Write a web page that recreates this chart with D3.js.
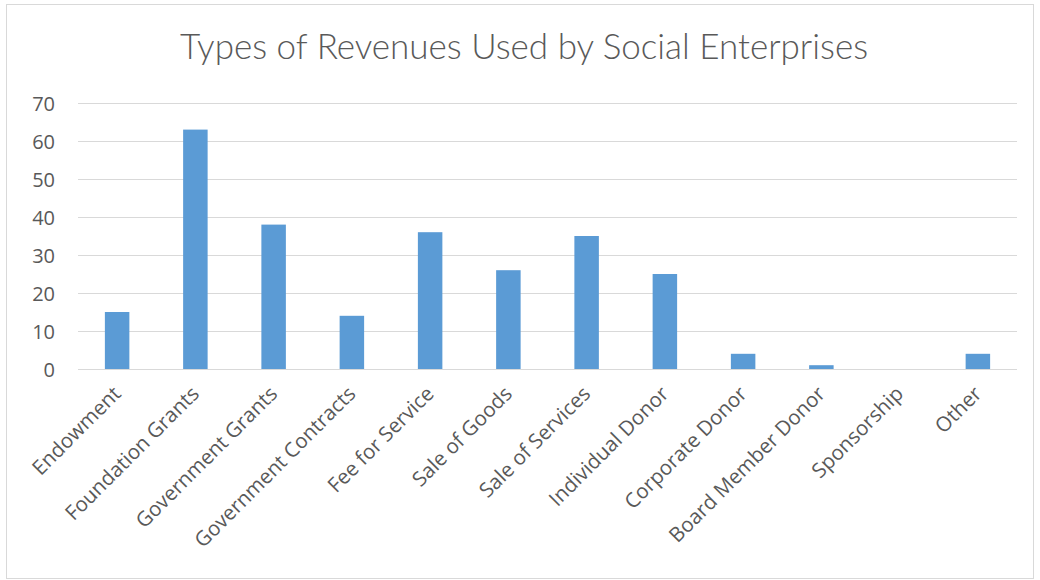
<!DOCTYPE html>
<html>
<head>
<meta charset="utf-8">
<script src="https://cdn.jsdelivr.net/npm/d3@7"></script>
<style>
  html, body { margin: 0; padding: 0; background: #fff; }
  svg { display: block; }
  text { font-family: "Open Sans", "Noto Sans", sans-serif; fill: #595959; }
</style>
</head>
<body>
<svg id="chart" width="1040" height="580"></svg>
<script>
// Revenue types and the number of social enterprises using each
const categories = [
  "Endowment", "Foundation Grants", "Government Grants", "Government Contracts",
  "Fee for Service", "Sale of Goods", "Sale of Services", "Individual Donor",
  "Corporate Donor", "Board Member Donor", "Sponsorship", "Other"
];
const counts = [15, 63, 38, 14, 36, 26, 35, 25, 4, 1, 0, 4];
const yTicks = [0, 10, 20, 30, 40, 50, 60, 70];
const title = "Types of Revenues Used by Social Enterprises";

const svg = d3.select("#chart");
const plot = { left: 78, right: 1017, top: 103, bottom: 369 };

// chart frame
svg.append("rect")
  .attr("x", 6.5).attr("y", 4.5)
  .attr("width", 1027).attr("height", 574)
  .attr("fill", "#fff").attr("stroke", "#d9d9d9").attr("stroke-width", 1);

svg.append("text")
  .attr("x", 524).attr("y", 59)
  .attr("text-anchor", "middle")
  .style("font-family", "Lato, 'Open Sans', sans-serif")
  .style("font-size", "35px")
  .style("font-weight", 300)
  .text(title);

const x = d3.scaleBand()
  .domain(categories)
  .range([plot.left, plot.right])
  .paddingInner(0.687)
  .paddingOuter(0.3435);

const y = d3.scaleLinear()
  .domain([0, 70])
  .range([plot.bottom, plot.top]);

// horizontal gridlines + y labels
const yAxis = d3.axisLeft(y)
  .tickValues(yTicks)
  .tickSize(-(plot.right - plot.left))
  .tickPadding(23);

const gy = svg.append("g")
  .attr("transform", `translate(${plot.left},0)`)
  .call(yAxis);
gy.select(".domain").remove();
gy.selectAll(".tick line").attr("stroke", "#d9d9d9").attr("stroke-width", 1);
gy.selectAll(".tick text")
  .style("font-size", "20px")
  .attr("fill", "#595959")
  .attr("dy", "0.35em");

// bars
svg.append("g").selectAll("rect")
  .data(categories.map((c, i) => ({ c, v: counts[i] })))
  .join("rect")
  .attr("x", d => x(d.c))
  .attr("width", x.bandwidth())
  .attr("y", d => y(d.v))
  .attr("height", d => y(0) - y(d.v))
  .attr("fill", "#5b9bd5");

// category axis
const xAxis = d3.axisBottom(x).tickSize(0).tickPadding(0);
const gx = svg.append("g")
  .attr("transform", `translate(0,${plot.bottom})`)
  .call(xAxis);
gx.select(".domain").attr("stroke", "#d9d9d9").attr("stroke-width", 1)
  .attr("d", `M${plot.left},0.5H${plot.right}`);
gx.selectAll(".tick text")
  .style("font-size", "20.5px")
  .attr("fill", "#595959")
  .attr("text-anchor", "end")
  .attr("dy", null)
  .attr("y", 0)
  .attr("transform", "translate(5,26) rotate(-45)");
</script>
</body>
</html>
